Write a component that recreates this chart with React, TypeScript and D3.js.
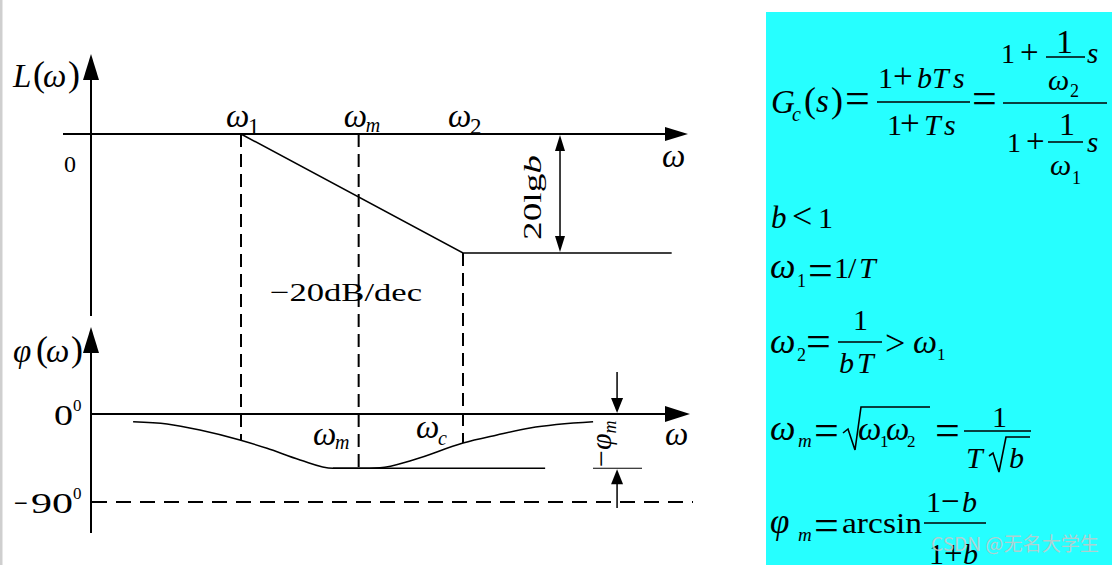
import React from "react";
import * as d3 from "d3";

// ---- data (frequency in decades relative to ω1, magnitude in dB, phase in degrees) ----
const breakNames = ["1", "m", "2"];
const breakFreqs = [0, 0.53, 1];
const magFreq = [0, 1, 1.94];
const magDb = [0, -20, -20];
const phaseFreq = [-0.486, -0.333, -0.185, -0.005, 0.117, 0.266, 0.414, 0.532, 0.626, 0.775, 1.0, 1.153, 1.302, 1.586];
const phaseDeg = [-7.9, -10.2, -16.4, -26.6, -35.1, -47.0, -55.5, -55.5, -54.9, -47.0, -29.7, -21.5, -14.3, -7.9];
const phaseMin = -55.5;
const phaseMinSpan = [0.414, 1.37];
const phaseTicks = [0, -90];
const gainDrop = -20;

const SERIF = "'Liberation Serif', 'Times New Roman', serif";

type TP = { x: number; y: number; s: number; i?: boolean; t: string; tl?: number; a?: "start" | "middle" | "end" };
const T = ({ x, y, s, i, t, tl, a }: TP) => (
  <text x={x} y={y} fontSize={s} fontStyle={i ? "italic" : "normal"} fontFamily={SERIF} textAnchor={a || "start"}
    {...(tl ? { textLength: tl, lengthAdjust: "spacingAndGlyphs" } : {})}>{t}</text>
);

const Arrow = ({ tx, ty, dir, len, hw }: { tx: number; ty: number; dir: "u" | "d" | "r"; len: number; hw: number }) => {
  let pts = "";
  if (dir === "u") pts = `${tx},${ty} ${tx - hw},${ty + len} ${tx + hw},${ty + len}`;
  if (dir === "d") pts = `${tx},${ty} ${tx - hw},${ty - len} ${tx + hw},${ty - len}`;
  if (dir === "r") pts = `${tx},${ty} ${tx - len},${ty - hw} ${tx - len},${ty + hw}`;
  return <polygon points={pts} fill="#000" />;
};

export default function App() {
  const x = d3.scaleLinear().domain([0, 1]).range([241, 463]);
  const yM = d3.scaleLinear().domain([0, -20]).range([134, 253]);
  const yP = d3.scaleLinear().domain([0, -90]).range([414, 502]);

  const magLine = d3.line<number>().x((_, k) => x(magFreq[k])).y((_, k) => yM(magDb[k]));
  const phLine = d3.line<number>().x((_, k) => x(phaseFreq[k])).y((_, k) => yP(phaseDeg[k])).curve(d3.curveMonotoneX);
  const phaseAt = (f: number) => {
    const k = phaseFreq.findIndex((v) => v >= f);
    if (k <= 0) return phaseDeg[0];
    const t = (f - phaseFreq[k - 1]) / (phaseFreq[k] - phaseFreq[k - 1]);
    return phaseDeg[k - 1] + t * (phaseDeg[k] - phaseDeg[k - 1]);
  };

  const axisX = 91;
  const gainX = x(1.437);
  const pmX = x(1.694);

  return (
    <svg width={1116} height={565} style={{ position: "absolute", left: 0, top: 0, background: "#fff" }}>
      <rect x={0} y={0} width={2.5} height={565} fill="#cfcfcf" />

      {/* ---------- magnitude plot ---------- */}
      <line x1={axisX} y1={70} x2={axisX} y2={316} stroke="#000" strokeWidth={2} />
      <Arrow tx={axisX} ty={54} dir="u" len={26} hw={8} />
      <line x1={63} y1={yM(0)} x2={672} y2={yM(0)} stroke="#000" strokeWidth={2} />
      <Arrow tx={688} ty={yM(0)} dir="r" len={23} hw={7} />
      <path d={magLine(magFreq) || ""} fill="none" stroke="#000" strokeWidth={1.5} />

      {/* dashed verticals */}
      {breakFreqs.map((f, k) => (
        <line key={k} x1={x(f)} x2={x(f)} y1={k === 2 ? yM(gainDrop) : yM(0)} y2={yP(phaseAt(f))}
          stroke="#000" strokeWidth={2} strokeDasharray="13 7" />
      ))}
      {breakFreqs.map((f, k) => (
        <g key={"l" + k}>
          <T x={x(f) - 15} y={127} s={33} i t="ω" />
          <T x={x(f) + 7} y={k === 1 ? 132 : 134} s={k === 1 ? 20 : 23} i={k === 1} t={breakNames[k]} />
        </g>
      ))}

      {/* 20lg b arrow */}
      <line x1={gainX} x2={gainX} y1={yM(0) + 10} y2={yM(gainDrop) - 10} stroke="#000" strokeWidth={1.5} />
      <Arrow tx={gainX} ty={yM(0) + 1} dir="u" len={16} hw={5} />
      <Arrow tx={gainX} ty={yM(gainDrop) - 1} dir="d" len={16} hw={5} />
      <g transform={`translate(541,240) rotate(-90)`}>
        <text x={0} y={0} fontSize={26} fontFamily={SERIF} textLength={85} lengthAdjust="spacingAndGlyphs">
          20lg<tspan fontStyle="italic">b</tspan>
        </text>
      </g>

      <T x={270} y={301} s={26} t="−20dB/dec" tl={152} />
      <T x={64} y={172} s={24} t="0" />
      <T x={662} y={167} s={33} i t="ω" />

      {/* L(ω) */}
      <T x={13} y={87} s={33} i t="L" />
      <T x={33} y={86} s={36} t="(" />
      <T x={43} y={87} s={33} i t="ω" />
      <T x={68} y={86} s={36} t=")" />

      {/* ---------- phase plot ---------- */}
      <line x1={axisX} y1={345} x2={axisX} y2={533} stroke="#000" strokeWidth={2} />
      <Arrow tx={axisX} ty={327} dir="u" len={26} hw={8} />
      <line x1={axisX} y1={yP(0)} x2={672} y2={yP(0)} stroke="#000" strokeWidth={2} />
      <Arrow tx={690} ty={yP(0)} dir="r" len={25} hw={8} />
      <line x1={axisX + 1} y1={yP(-90)} x2={693} y2={yP(-90)} stroke="#000" strokeWidth={2} strokeDasharray="15 9" />

      <path d={phLine(phaseFreq) || ""} fill="none" stroke="#000" strokeWidth={1.5} />
      <line x1={x(phaseMinSpan[0])} x2={x(phaseMinSpan[1])} y1={yP(phaseMin)} y2={yP(phaseMin)} stroke="#000" strokeWidth={1.5} />

      {/* φm annotation */}
      <line x1={593} x2={642} y1={yP(phaseMin)} y2={yP(phaseMin)} stroke="#000" strokeWidth={1.2} />
      <line x1={pmX} x2={pmX} y1={372} y2={yP(0) - 10} stroke="#000" strokeWidth={1.5} />
      <Arrow tx={pmX} ty={yP(0) - 1} dir="d" len={15} hw={6} />
      <line x1={pmX} x2={pmX} y1={508} y2={yP(phaseMin) + 10} stroke="#000" strokeWidth={1.5} />
      <Arrow tx={pmX} ty={yP(phaseMin) + 1} dir="u" len={15} hw={6} />
      <g transform={`translate(611,467) rotate(-90)`}>
        <text x={0} y={0} fontSize={30} fontFamily={SERIF}>
          −<tspan fontStyle="italic">φ</tspan><tspan fontStyle="italic" fontSize={18} dy={5}>m</tspan>
        </text>
      </g>

      {/* phase labels */}
      <T x={313} y={445} s={33} i t="ω" />
      <T x={335} y={449} s={20} i t="m" />
      <T x={416} y={438} s={33} i t="ω" />
      <T x={438} y={445} s={20} i t="c" />
      <T x={665} y={445} s={33} i t="ω" />

      {/* φ(ω) */}
      <T x={13} y={362} s={33} i t="φ" />
      <T x={36} y={361} s={36} t="(" />
      <T x={46} y={362} s={33} i t="ω" />
      <T x={71} y={361} s={36} t=")" />

      {phaseTicks.map((v, k) => (
        <g key={"pt" + k}>
          {v === 0 ? (
            <T x={54} y={yP(v) + 11} s={30} t="0" tl={19} />
          ) : (
            <>
              <T x={14} y={yP(v) + 11} s={30} t="−" tl={14} />
              <T x={31} y={yP(v) + 11} s={30} t={String(Math.abs(v))} tl={42} />
            </>
          )}
          <T x={73} y={yP(v) - 3} s={17} t="0" />
        </g>
      ))}

      {/* ---------- formula panel ---------- */}
      <rect x={766} y={12} width={346} height={553} fill="#26ffff" />
      <g>
        <T x={771} y={113} s={33} i t="G" />
        <T x={792} y={121} s={20} i t="c" />
        <T x={804} y={112} s={36} t="(" />
        <T x={816} y={112} s={33} i t="s" />
        <T x={831} y={112} s={36} t=")" />
        <T x={845} y={113} s={44} t="=" />
        <line x1={877} x2={970} y1={102} y2={102} stroke="#000" strokeWidth={1.6} />
        <T x={878} y={88} s={30} t="1" />
        <T x={893} y={88} s={35} t="+" />
        <T x={917} y={88} s={30} i t="b" />
        <T x={932} y={88} s={30} i t="T" />
        <T x={953} y={88} s={30} i t="s" />
        <T x={887} y={135} s={30} t="1" />
        <T x={900} y={135} s={35} t="+" />
        <T x={924} y={135} s={30} i t="T" />
        <T x={944} y={135} s={30} i t="s" />
        <T x={972} y={113} s={44} t="=" />
        <line x1={1003} x2={1107} y1={103} y2={103} stroke="#000" strokeWidth={1.6} />
        <T x={1001} y={63} s={28} t="1" />
        <T x={1020} y={63} s={33} t="+" />
        <line x1={1046} x2={1085} y1={57} y2={57} stroke="#000" strokeWidth={1.3} />
        <T x={1056} y={53} s={34} t="1" />
        <T x={1048} y={90} s={30} i t="ω" />
        <T x={1070} y={97} s={18} t="2" />
        <T x={1087} y={63} s={29} i t="s" />
        <T x={1007} y={152} s={28} t="1" />
        <T x={1026} y={152} s={33} t="+" />
        <line x1={1048} x2={1083} y1={142} y2={142} stroke="#000" strokeWidth={1.3} />
        <T x={1059} y={135} s={32} t="1" />
        <T x={1087} y={152} s={29} i t="s" />
        <T x={1050} y={175} s={30} i t="ω" />
        <T x={1072} y={184} s={18} t="1" />

        <T x={771} y={228} s={31} i t="b" />
        <T x={792} y={228} s={36} t="<" />
        <T x={818} y={228} s={30} t="1" />

        <T x={770} y={278} s={36} i t="ω" />
        <T x={797} y={287} s={18} t="1" />
        <T x={808} y={285} s={44} t="=" />
        <T x={834} y={278} s={30} t="1" />
        <T x={848} y={278} s={30} t="/" />
        <T x={859} y={278} s={30} i t="T" />

        <T x={770} y={353} s={36} i t="ω" />
        <T x={797} y={361} s={18} t="2" />
        <T x={806} y={356} s={44} t="=" />
        <line x1={838} x2={882} y1={342} y2={342} stroke="#000" strokeWidth={1.5} />
        <T x={853} y={330} s={30} t="1" />
        <T x={839} y={373} s={30} i t="b" />
        <T x={857} y={373} s={30} i t="T" />
        <T x={885} y={355} s={36} t=">" />
        <T x={913} y={353} s={34} i t="ω" />
        <T x={937} y={360} s={17} t="1" />

        <T x={770} y={440} s={36} i t="ω" />
        <T x={798} y={447} s={19} i t="m" />
        <T x={814} y={445} s={44} t="=" />
        <path d="M843,433 L848,429 L855,450 L861,407 L930,407" fill="none" stroke="#000" strokeWidth={1.6} />
        <T x={858} y={440} s={33} i t="ω" />
        <T x={880} y={447} s={17} t="1" />
        <T x={886} y={440} s={33} i t="ω" />
        <T x={907} y={447} s={17} t="2" />
        <T x={935} y={445} s={44} t="=" />
        <line x1={964} x2={1031} y1={431} y2={431} stroke="#000" strokeWidth={1.5} />
        <T x={992} y={427} s={30} t="1" />
        <T x={966} y={468} s={30} i t="T" />
        <path d="M989,456 L993,453 L999,472 L1006,437 L1030,437" fill="none" stroke="#000" strokeWidth={1.6} />
        <T x={1009} y={468} s={30} i t="b" />

        <T x={770} y={533} s={35} i t="φ" />
        <T x={798} y={541} s={19} i t="m" />
        <T x={814} y={540} s={44} t="=" />
        <T x={842} y={533} s={30} t="arcsin" tl={80} />
        <line x1={924} x2={986} y1={523} y2={523} stroke="#000" strokeWidth={1.5} />
        <T x={926} y={512} s={30} t="1" />
        <T x={941} y={512} s={33} t="−" />
        <T x={962} y={512} s={30} i t="b" />
        <T x={929} y={564} s={30} t="1" />
        <T x={944} y={564} s={33} t="+" />
        <T x={963} y={564} s={30} i t="b" />
      </g>
      <text x={931} y={551} fontSize={19} fill="#c8c8c8" fillOpacity={0.85} textLength={168} lengthAdjust="spacingAndGlyphs"
        fontFamily="'Noto Sans CJK SC', 'Noto Sans', sans-serif">CSDN @无名大学生</text>
    </svg>
  );
}
